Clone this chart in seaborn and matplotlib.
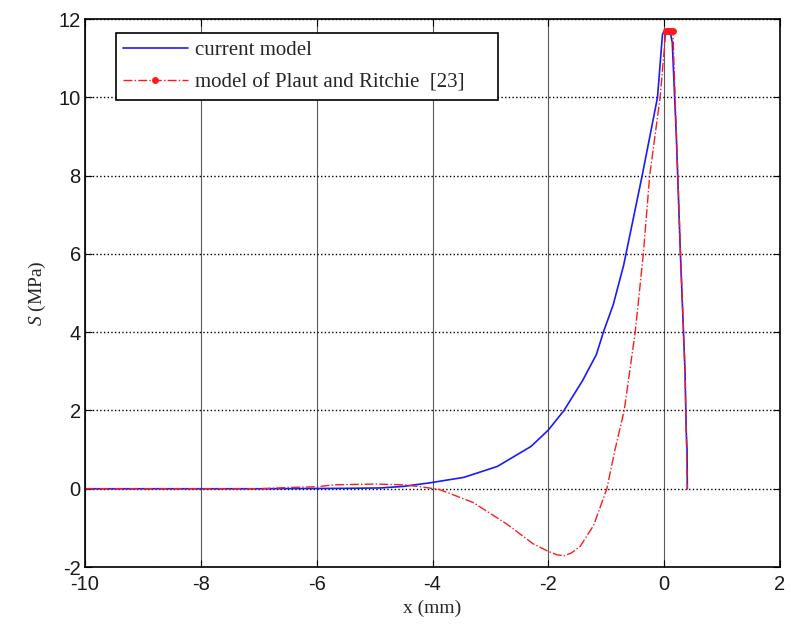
import matplotlib
matplotlib.use("Agg")
import matplotlib.pyplot as plt
import seaborn as sns
import pandas as pd
import numpy as np

# ---- data ----
cur_x = [-10, -6.9, -5.5, -4.9, -4.5, -4.05, -3.46, -2.88, -2.30, -2.0, -1.73,
         -1.41, -1.17, -1.05, -0.88, -0.70, -0.38, -0.115, -0.03, 0.0, 0.1,
         0.14, 0.21, 0.28, 0.36, 0.38, 0.395, 0.40]
cur_y = [0, 0, 0.01, 0.02, 0.06, 0.15, 0.29, 0.57, 1.08, 1.50, 2.0,
         2.76, 3.43, 4.0, 4.70, 5.71, 8.0, 10.0, 11.6, 11.7, 11.7,
         11.4, 9.0, 6.0, 3.0, 1.5, 1.0, 0.0]

pr_x = [-10, -7.0, -6.5, -6.0, -5.7, -5.0, -4.5, -4.2, -3.88, -3.30, -2.72,
        -2.26, -2.0, -1.85, -1.72, -1.6, -1.45, -1.22, -0.99, -0.85, -0.69,
        -0.50, -0.36, -0.25, -0.07, 0.0, 0.03, 0.06, 0.09, 0.12, 0.15,
        0.21, 0.28, 0.36, 0.38, 0.40]
pr_y = [0, 0, 0.03, 0.05, 0.10, 0.12, 0.10, 0.05, -0.02, -0.35, -0.90,
        -1.41, -1.60, -1.69, -1.71, -1.64, -1.47, -0.94, 0.0, 0.99, 2.0,
        4.0, 6.0, 8.0, 10.0, 11.2, 11.7, 11.7, 11.7, 11.7, 11.7,
        9.1, 6.1, 3.0, 1.5, 0.0]

label_cur = "current model"
label_pr = "model of Plaut and Ritchie  [23]     "
x_ticks = [-10, -8, -6, -4, -2, 0, 2]
y_ticks = [-2, 0, 2, 4, 6, 8, 10, 12]

sns.set_style("white")
plt.rcParams["mathtext.fontset"] = "custom"
plt.rcParams["mathtext.it"] = "Liberation Serif:italic"
plt.rcParams["mathtext.rm"] = "Liberation Serif"
plt.rcParams["axes.unicode_minus"] = False
plt.rcParams["font.family"] = ["Liberation Sans", "DejaVu Sans"]

fig = plt.figure(figsize=(7.91, 6.28), dpi=100)
ax = fig.add_axes([0.1075, 0.0971, 0.8786, 0.8726])

df_cur = pd.DataFrame({"x": cur_x, "y": cur_y})
df_pr = pd.DataFrame({"x": pr_x, "y": pr_y})

sns.lineplot(data=df_cur, x="x", y="y", ax=ax, sort=False, estimator=None,
             color="#1a1aff", lw=1.2, label=label_cur)
peak_idx = [i for i, v in enumerate(pr_x) if 0.02 <= v <= 0.16]
sns.lineplot(data=df_pr, x="x", y="y", ax=ax, sort=False, estimator=None,
             color="#ff1a1a", lw=1.0, linestyle="-.", marker="o",
             markersize=5, markeredgewidth=0, markevery=peak_idx,
             label=label_pr)

ax.set_xlim(-10, 2)
ax.set_ylim(-2, 12)
ax.set_xticks(x_ticks)
ax.set_yticks(y_ticks)
ax.tick_params(direction="in", length=5, width=0.8, labelsize=14.5,
               top=True, right=True, bottom=True, left=True, colors="k", pad=3)
ax.tick_params(axis="x", pad=6)
for lab in ax.get_xticklabels() + ax.get_yticklabels():
    lab.set_color("#1a1a1a")

ax.xaxis.grid(True, ls="-", color="0.35", lw=0.8)
ax.yaxis.grid(True, ls=":", color="k", lw=1.0)
ax.set_axisbelow(True)
for s in ax.spines.values():
    s.set_color("k")
    s.set_linewidth(1.2)
    s.set_visible(True)

ax.set_xlabel("x (mm)", fontsize=14, family="Liberation Serif", labelpad=4)
ax.set_ylabel("$S$ (MPa)", fontsize=14, family="Liberation Serif", labelpad=8)

leg = ax.legend(loc="upper left", bbox_to_anchor=(0.0442, 0.974), frameon=True,
                fancybox=False, edgecolor="k", framealpha=1,
                prop={"family": "Liberation Serif", "size": 15},
                handlelength=3.1, borderpad=0.35, labelspacing=0.6,
                handletextpad=0.35, borderaxespad=0)
leg.get_frame().set_linewidth(1.2)

fig.savefig("out.png", dpi=100)
